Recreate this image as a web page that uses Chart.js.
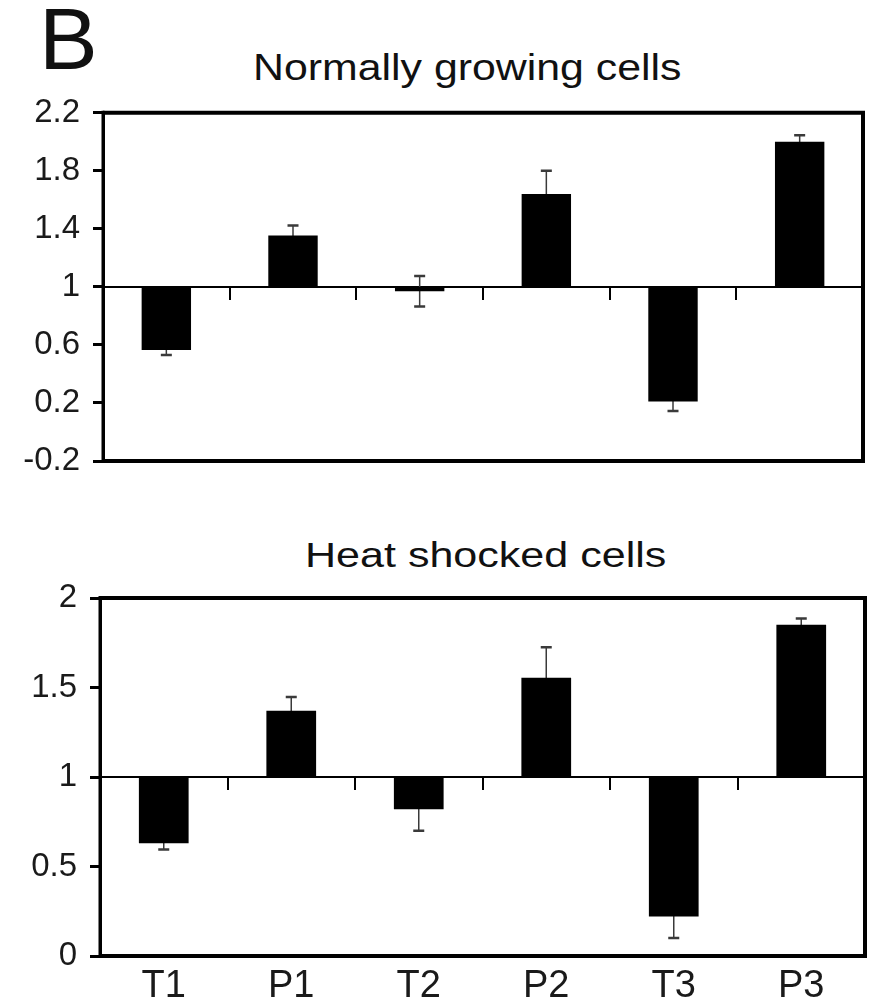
<!DOCTYPE html>
<html><head><meta charset="utf-8">
<script src="https://cdn.jsdelivr.net/npm/chart.js@4"></script>
<style>
html,body{margin:0;padding:0;background:#fff;}
body{width:869px;height:1006px;position:relative;overflow:hidden;font-family:"Liberation Sans",Arial,sans-serif;color:#111;}
canvas{position:absolute;left:0;}
.t{position:absolute;line-height:1;white-space:nowrap;transform-origin:0 0;}
</style></head><body>
<div class="t" style="left:39px;top:-5px;font-size:88px;">B</div>
<div class="t" style="left:253px;top:49.5px;font-size:36px;transform:scaleX(1.19)">Normally growing cells</div>
<div class="t" style="left:305px;top:537px;font-size:35px;transform:scaleX(1.23)">Heat shocked cells</div>
<canvas id="c1" width="869" height="420" style="top:80px"></canvas>
<canvas id="c2" width="869" height="446" style="top:560px"></canvas>
<script>
const categories = ['T1','P1','T2','P2','T3','P3'];
const normalValues = [0.565, 1.355, 0.97, 1.64, 0.21, 2.0];
const normalErrors = [0.035, 0.068, 0.105, 0.16, 0.065, 0.045];
const heatValues = [0.63, 1.37, 0.82, 1.555, 0.22, 1.85];
const heatErrors = [0.035, 0.077, 0.12, 0.17, 0.12, 0.035];
const normalTicks = [-0.2, 0.2, 0.6, 1, 1.4, 1.8, 2.2];
const heatTicks = [0, 0.5, 1, 1.5, 2];
const baseline = 1;

const FONT = '"Liberation Sans", Arial, sans-serif';

function errorPlugin(values, errors) {
  return {
    id: 'errorBars',
    beforeDatasetsDraw(chart) {
      const ctx = chart.ctx, meta = chart.getDatasetMeta(0), ys = chart.scales.y;
      ctx.save();
      ctx.strokeStyle = '#3a3a3a';
      meta.data.forEach((bar, i) => {
        const x = bar.x;
        const yHi = ys.getPixelForValue(values[i] + errors[i]);
        const yLo = ys.getPixelForValue(values[i] - errors[i]);
        ctx.lineWidth = 1.5;
        ctx.beginPath(); ctx.moveTo(x, yHi); ctx.lineTo(x, yLo); ctx.stroke();
        ctx.lineWidth = 2.5;
        ctx.beginPath();
        ctx.moveTo(x - 5.5, yHi); ctx.lineTo(x + 5.5, yHi);
        ctx.moveTo(x - 5.5, yLo); ctx.lineTo(x + 5.5, yLo);
        ctx.stroke();
      });
      ctx.restore();
    }
  };
}
const framePlugin = {
  id: 'frame',
  afterDraw(chart) {
    const {ctx, chartArea: a} = chart;
    ctx.save();
    ctx.strokeStyle = '#000';
    ctx.lineWidth = 4;
    ctx.beginPath();
    ctx.moveTo(a.left, a.top); ctx.lineTo(a.right, a.top); ctx.lineTo(a.right, a.bottom); ctx.lineTo(a.left, a.bottom);
    ctx.stroke();
    ctx.lineWidth = 3;
    ctx.beginPath(); ctx.moveTo(a.left, a.top - 2); ctx.lineTo(a.left, a.bottom + 2); ctx.stroke();
    ctx.restore();
  }
};

function makeChart(id, values, errors, tickVals, cfg) {
  const scales = {
    x: {
      type: 'category',
      position: { y: baseline },
      offset: true,
      grid: { display: true, drawOnChartArea: false, drawTicks: true, tickLength: 12, color: '#000', lineWidth: 2, offset: true },
      border: { display: true, color: '#000', width: 2 },
      ticks: { display: false }
    },
    y: {
      type: 'linear',
      position: 'left',
      min: tickVals[0],
      max: tickVals[tickVals.length - 1],
      afterFit: s => { s.width = cfg.areaLeft; },
      afterBuildTicks: s => { s.ticks = tickVals.map(v => ({ value: v })); },
      grid: { display: true, drawOnChartArea: false, drawTicks: true, tickLength: 10, color: '#000', lineWidth: 3 },
      border: { display: true, color: '#000', width: 3 },
      ticks: { padding: 13, color: '#1a1a1a', font: { family: FONT, size: 33 }, callback: v => String(v) }
    }
  };
  if (cfg.showLabels) {
    scales.xl = {
      type: 'category',
      position: 'bottom',
      labels: categories,
      offset: true,
      afterFit: s => { s.height = cfg.labelHeight; },
      grid: { display: false },
      border: { display: false },
      ticks: { padding: cfg.labelPad, color: '#1a1a1a', font: { family: FONT, size: 38 } }
    };
  }
  return new Chart(document.getElementById(id), {
    type: 'bar',
    data: {
      labels: categories,
      datasets: [{
        data: values.map(v => [baseline, v]),
        backgroundColor: '#000',
        borderWidth: 0,
        barPercentage: 0.39,
        categoryPercentage: 1,
        xAxisID: 'x',
        yAxisID: 'y'
      }]
    },
    options: {
      responsive: false,
      animation: false,
      events: [],
      layout: { padding: { left: 0, right: cfg.padRight, top: cfg.padTop, bottom: cfg.padBottom } },
      plugins: { legend: { display: false }, tooltip: { enabled: false }, title: { display: false } },
      scales
    },
    plugins: [errorPlugin(values, errors), framePlugin]
  });
}

makeChart('c1', normalValues, normalErrors, normalTicks,
  { areaLeft: 103, padRight: 6, padTop: 26, padBottom: 39, showLabels: false });
makeChart('c2', heatValues, heatErrors, heatTicks,
  { areaLeft: 100, padRight: 4, padTop: 38, padBottom: 0, showLabels: true, labelHeight: 50, labelPad: 0 });
</script>
</body></html>
